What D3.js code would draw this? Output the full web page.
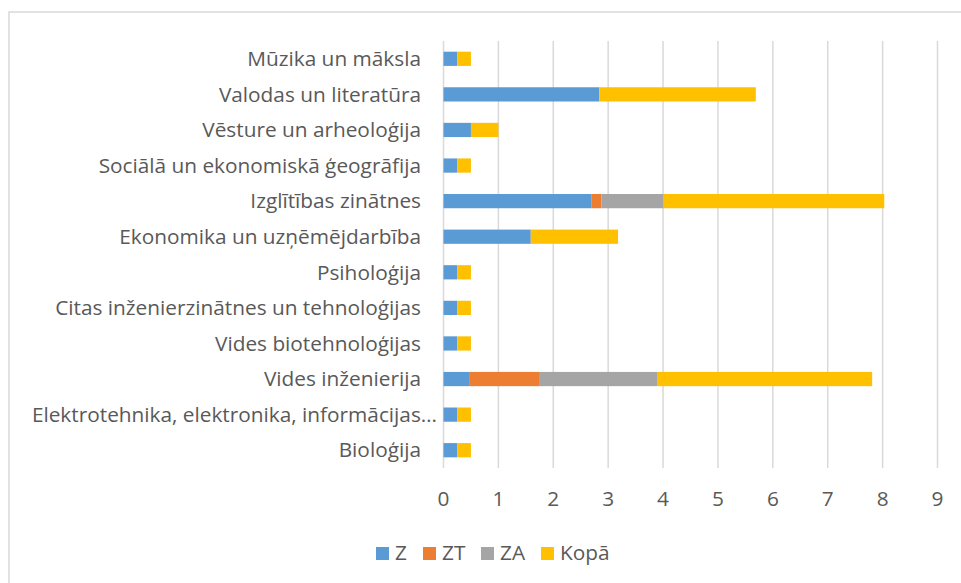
<!DOCTYPE html>
<html>
<head>
<meta charset="utf-8">
<script src="https://cdn.jsdelivr.net/npm/d3@7"></script>
<style>
  body { margin: 0; background: #fff; }
  text { font-family: "Open Sans", "Noto Sans", sans-serif; fill: #595959; font-size: 20.8px; }
</style>
</head>
<body>
<svg id="chart" width="961" height="583"></svg>
<script>
var categories = ['Mūzika un māksla', 'Valodas un literatūra', 'Vēsture un arheoloģija',
	'Sociālā un ekonomiskā ģeogrāfija', 'Izglītības zinātnes', 'Ekonomika un uzņēmējdarbība',
	'Psiholoģija', 'Citas inženierzinātnes un tehnoloģijas', 'Vides biotehnoloģijas',
	'Vides inženierija', 'Elektrotehnika, elektronika, informācijas…', 'Bioloģija']
var seriesNames = ['Z', 'ZT', 'ZA', 'Kopā']
var valZ = [0.25, 2.84, 0.5, 0.25, 2.7, 1.59, 0.25, 0.25, 0.25, 0.48, 0.25, 0.25]
var valZT = [0, 0, 0, 0, 0.18, 0, 0, 0, 0, 1.26, 0, 0]
var valZA = [0, 0, 0, 0, 1.13, 0, 0, 0, 0, 2.15, 0, 0]
var valKopa = [0.25, 2.85, 0.5, 0.25, 4.02, 1.59, 0.25, 0.25, 0.25, 3.92, 0.25, 0.25]
var xTicks = [0, 1, 2, 3, 4, 5, 6, 7, 8, 9]
var colors = ['#5b9bd5', '#ed7d31', '#a5a5a5', '#ffc000']

var svg = d3.select('#chart')

// outer frame (right and bottom run off the picture)
svg.append('rect')
	.attr('x', 9).attr('y', 12)
	.attr('width', 980).attr('height', 600)
	.style('fill', 'none')
	.style('stroke', '#d9d9d9')
	.attr('stroke-width', 1.5)

var rows = categories.map(function (c, i) {
	return { cat: c, Z: valZ[i], ZT: valZT[i], ZA: valZA[i], 'Kopā': valKopa[i] }
})

xScale = d3.scaleLinear().domain([0, 9]).range([443.5, 937.5])
yScale = d3.scaleBand().domain(categories).range([41, 468]).paddingInner(0.6).paddingOuter(0.3)

// vertical gridlines
svg.append('g')
	.selectAll('line')
	.data(xTicks)
	.enter()
	.append('line')
	.attr('x1', function (d) { return xScale(d) })
	.attr('x2', function (d) { return xScale(d) })
	.attr('y1', 41)
	.attr('y2', 468)
	.style('stroke', '#d9d9d9')
	.attr('stroke-width', 1.5)

// stacked bars
var stack = d3.stack().keys(seriesNames)(rows)
svg.append('g')
	.selectAll('g')
	.data(stack)
	.enter()
	.append('g')
	.style('fill', function (d, i) { return colors[i] })
	.selectAll('rect')
	.data(function (d) { return d.filter(function (s) { return s[1] - s[0] > 0 }) })
	.enter()
	.append('rect')
	.attr('x', function (d) { return xScale(d[0]) })
	.attr('width', function (d) { return xScale(d[1]) - xScale(d[0]) })
	.attr('y', function (d) { return yScale(d.data.cat) })
	.attr('height', yScale.bandwidth())

// x tick labels
svg.append('g')
	.selectAll('text')
	.data(xTicks)
	.enter()
	.append('text')
	.attr('x', function (d) { return xScale(d) })
	.attr('y', 506)
	.style('text-anchor', 'middle')
	.text(function (d) { return d })

// category labels
svg.append('g')
	.selectAll('text')
	.data(categories)
	.enter()
	.append('text')
	.attr('x', function (d, i) { return i == 10 ? 437 : 421 })
	.attr('y', function (d) { return yScale(d) + yScale.bandwidth() / 2 })
	.attr('dy', '0.35em')
	.style('text-anchor', 'end')
	.text(function (d) { return d })

// legend
var legendX = [376, 423, 481, 541]
var legend = svg.append('g')
	.selectAll('g')
	.data(seriesNames)
	.enter()
	.append('g')
	.attr('transform', function (d, i) { return 'translate(' + legendX[i] + ',553)' })
legend.append('rect')
	.attr('x', 0).attr('y', -6)
	.attr('width', 13).attr('height', 13)
	.style('fill', function (d, i) { return colors[i] })
legend.append('text')
	.attr('x', 19)
	.attr('dy', '0.35em')
	.text(function (d) { return d })
</script>
</body>
</html>
